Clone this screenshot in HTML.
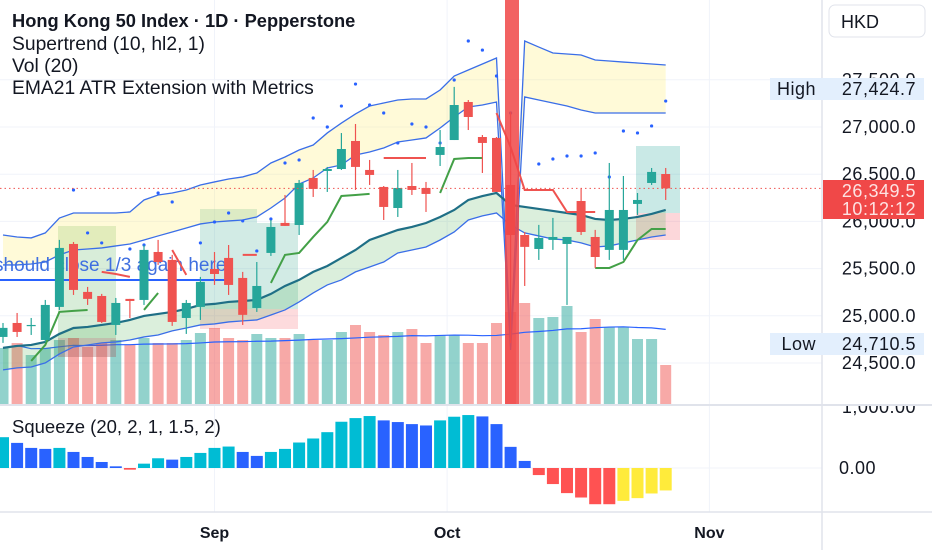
<!DOCTYPE html>
<html><head><meta charset="utf-8"><style>
body{margin:0;background:#fff;}
svg{display:block;font-family:"Liberation Sans",sans-serif;}
</style></head><body>
<svg id="chart" width="932" height="550" viewBox="0 0 932 550">
<defs><clipPath id="mainClip"><rect x="0" y="0" width="822" height="404"/></clipPath>
<clipPath id="sqClip"><rect x="0" y="406" width="822" height="106"/></clipPath>
<clipPath id="axClip"><rect x="823" y="406" width="109" height="106"/></clipPath></defs>
<rect x="0" y="0" width="932" height="550" fill="#fff"/>
<g id="grid"></g>
<g id="main" clip-path="url(#mainClip)"></g>
<g id="sq" clip-path="url(#sqClip)"></g>
<g id="axes"></g>
</svg>
<script>
const opens  = [24776,24924,24893,24744,25094,25761,25253,25210,24903,25179,25168,25676,25592,24977,25094,25496,25613,25401,25083,25666,25984,25962,26460,26534,26555,26852,26545,26365,26142,26375,26354,26704,26862,27265,26894,26884,26386,25856,25708,25804,25761,26216,25835,25698,25698,26185,26407,26502];
const closes = [24872,24829,24903,25115,25719,25274,25179,24935,25136,25157,25698,25570,24935,25136,25359,25443,25327,25010,25316,25941,25952,26407,26344,26555,26767,26577,26492,26153,26354,26333,26291,26788,27233,27106,26831,26312,25856,25730,25825,25835,25835,25888,25623,26121,26121,26227,26524,26350];
const highs  = [24924,25030,24977,25168,25804,25782,25306,25232,25189,25179,25750,25804,25645,25168,25412,25676,25750,25465,25570,26015,26280,26439,26545,26577,26936,27032,26651,26375,26545,26619,26418,26968,27425,27286,26915,26894,27159,25888,25963,26037,25835,26354,25910,26619,26481,26301,26566,26566];
const lows   = [24713,24776,24797,24723,25062,25221,25115,24924,24797,24977,25115,25539,24893,24808,24956,25327,25221,24903,25041,25634,25952,25856,26259,26312,26545,26333,26386,26015,26047,26280,26100,26587,26862,26968,26513,26312,24710,25316,25592,25698,25115,25856,25507,25592,25592,26068,26386,26227];
const volumes = [56,61,49,56,64,66,57,61,64,59,66,61,61,64,71,76,66,64,70,66,66,70,64,64,72,79,72,69,72,75,61,69,69,61,61,81,92,101,86,87,98,72,85,77,77,65,65,39];
const bandUpperOuter = [25856,25835,25825,25878,26036,26089,26089,26089,26089,26100,26227,26280,26301,26333,26386,26418,26449,26471,26513,26619,26682,26756,26809,26937,27042,27138,27222,27254,27286,27297,27297,27392,27540,27604,27667,27731,24744,27911,27847,27784,27773,27763,27710,27699,27688,27678,27667,27657];
const bandUpperInner = [25539,25539,25549,25570,25645,25697,25708,25719,25740,25761,25803,25846,25888,25930,25973,25994,26005,26015,26047,26142,26248,26396,26460,26566,26598,26704,26735,26778,26841,26862,26884,26989,27106,27212,27233,27265,24638,27318,27286,27254,27222,27180,27148,27148,27148,27148,27148,27148];
const ema21 = [24660,24681,24691,24723,24808,24871,24882,24903,24924,24956,24999,25020,25041,25073,25115,25126,25147,25157,25168,25232,25316,25380,25465,25528,25613,25697,25803,25856,25909,25941,25983,26047,26121,26227,26269,26301,26174,26153,26132,26111,26089,26068,26026,26015,26026,26047,26079,26121];
const bandLower = [24427,24448,24458,24501,24596,24670,24691,24713,24723,24744,24776,24797,24840,24871,24903,24914,24935,24946,24956,25009,25062,25147,25242,25327,25380,25465,25517,25570,25666,25697,25729,25803,25888,26015,26058,26089,25962,25878,25846,25814,25803,25772,25729,25740,25772,25803,25835,25856];
const stUp = [null,null,24522,24691,25041,25052,25062,null,null,null,25062,25242,null,null,null,null,null,null,null,25348,25645,25666,25835,25994,26269,26280,26291,null,null,null,null,26301,26661,26672,26672,null,null,null,null,null,null,null,25507,25507,25570,25803,25920,25920];
const stDown = [null,null,null,null,null,null,null,25465,25443,25412,null,null,25697,25433,null,null,null,25645,25645,null,null,null,null,null,null,null,null,26672,26672,26672,26672,null,null,null,null,27148,26788,26333,26333,26333,26100,26100,26100,null,null,null,null,null];
const dots = [null,null,null,null,null,26333,25878,25772,null,25708,25750,26301,26206,null,25772,25994,26089,26005,25687,26026,26619,26651,27095,27000,27222,27455,27233,27148,26831,27032,27000,26831,27498,27911,27815,27540,27148,null,26608,26661,26693,26693,26725,26471,26958,26937,27011,27275];
const squeeze = [497,405,324,308,324,259,178,97,27,-27,70,157,135,178,243,324,346,259,195,259,308,411,476,578,746,805,838,768,741,708,686,768,827,854,832,708,341,114,-114,-259,-405,-476,-584,-584,-530,-486,-411,-362];
const priceTicks = [27500,27000,26500,26000,25500,25000,24500];
const priceTickLabels = ["27,500.0","27,000.0","26,500.0","26,000.0","25,500.0","25,000.0","24,500.0"];
const monthLabels = ["Sep","Oct","Nov"];
const monthIdx = [15,31.5,50.1];
const lastPrice = 26349.5, highPrice = 27424.7, lowPrice = 24710.5;

const NS="http://www.w3.org/2000/svg";
const xi = i => 3 + i*14.1;
const yP = p => 127 + (27000-p)*0.0944;
const yV = v => 404 - v;
const yS = v => 468 - v*0.062;
function mk(tag, attrs, parent){const e=document.createElementNS(NS,tag);for(const k in attrs)e.setAttribute(k,attrs[k]);parent.appendChild(e);return e;}
const G=document.getElementById('grid'), M=document.getElementById('main'), S=document.getElementById('sq'), A=document.getElementById('axes');
const AX={'font-size':18,'letter-spacing':0.5,fill:'#131722','text-anchor':'end'};
function ax(o){return Object.assign({},AX,o);}

priceTicks.forEach(p=>{const l=mk('line',{x1:0,x2:822,y1:yP(p),y2:yP(p),stroke:'#f0f3fa','stroke-width':1},G);

});
monthIdx.forEach(m=>{const l=mk('line',{x1:xi(m),x2:xi(m),y1:0,y2:512,stroke:'#f0f3fa','stroke-width':1},G);

});
mk('line',{x1:0,x2:822,y1:468,y2:468,stroke:'#f0f3fa'},G);

volumes.forEach((v,i)=>{const up=closes[i]>=opens[i];
const r=mk('rect',{x:xi(i)-5.5,y:yV(v),width:11,height:v,fill:up?'rgba(38,166,154,0.5)':'rgba(239,83,80,0.5)'},M);

});
let pts=[];volumes.forEach((v,i)=>{const s=Math.max(0,i-19);let sum=0;for(let k=s;k<=i;k++)sum+=volumes[k];pts.push(xi(i)+','+yV(sum/(i-s+1)));});
const vma=mk('polyline',{points:pts.join(' '),fill:'none',stroke:'#2962ff','stroke-width':1.2},M);



function box(x,y,w,h,f,name){const r=mk('rect',{x:x,y:y,width:w,height:h,fill:f},M);

}
box(58,226,58,112,'rgba(76,175,80,0.22)','long-position-profit');
box(58,338,58,19,'rgba(160,90,90,0.35)','long-position-loss');
box(200,209,57,100,'rgba(76,175,150,0.25)','long-position-profit-2');
box(257,223,41,86,'rgba(76,175,150,0.25)','long-position-profit-3');
box(200,309,98,20,'rgba(242,54,69,0.18)','long-position-loss-2');
box(636,146,44,67,'rgba(38,166,154,0.25)','long-position-profit-4');
box(636,213,44,27,'rgba(242,54,69,0.2)','long-position-loss-4');

function linePath(arr){return arr.map((v,i)=>(i?'L':'M')+xi(i)+','+yP(v)).join('');}
function fillBetween(a,b,f,name){let d=a.map((v,i)=>(i?'L':'M')+xi(i)+','+yP(v)).join('');for(let i=b.length-1;i>=0;i--)d+='L'+xi(i)+','+yP(b[i]);d+='Z';
const p=mk('path',{d:d,fill:f},M);

}
fillBetween(bandUpperOuter,bandUpperInner,'rgba(255,235,100,0.25)','upper-band-fill');
fillBetween(ema21,bandLower,'rgba(76,175,80,0.2)','lower-band-fill');
[[bandUpperOuter,'upper-band-outer'],[bandUpperInner,'upper-band-inner'],[bandLower,'lower-band']].forEach(([a,n])=>{const p=mk('path',{d:linePath(a),fill:'none',stroke:'#3a6ee8','stroke-width':1.3},M);

});
const ep=mk('path',{d:linePath(ema21),fill:'none',stroke:'#1f6f86','stroke-width':2.2},M);



const bl=mk('line',{x1:0,x2:225,y1:280,y2:280,stroke:'#2962ff','stroke-width':2},M);


const tt=mk('text',{x:-6,y:271,'font-size':19,fill:'#3f6fe0'},M);tt.textContent='should close 1/3 again here';



function segs(arr,color,name){let d='';let pen=false;arr.forEach((v,i)=>{if(v==null){pen=false;return;}d+=(pen?'L':'M')+xi(i)+','+yP(v);pen=true;});
const p=mk('path',{d:d,fill:'none',stroke:color,'stroke-width':2},M);

}
segs(stUp,'#43a047','supertrend-up');
segs(stDown,'#ef5350','supertrend-down');
dots.forEach((v,i)=>{if(v==null)return;const c=mk('circle',{cx:xi(i),cy:yP(v),r:1.6,fill:'#2962ff'},M);

});

opens.forEach((o,i)=>{const c=closes[i],up=c>=o,col=up?'#26a69a':'#ef5350',x=xi(i);
const g=mk('g',{},M);


mk('line',{x1:x,x2:x,y1:yP(highs[i]),y2:yP(lows[i]),stroke:col,'stroke-width':1.2},g);
const t=yP(Math.max(o,c)),b=yP(Math.min(o,c));
mk('rect',{x:x-4.5,y:t,width:9,height:Math.max(1.2,b-t),fill:col},g);});

const lp=mk('line',{x1:0,x2:822,y1:yP(lastPrice),y2:yP(lastPrice),stroke:'#ef5350','stroke-width':1,'stroke-dasharray':'1.5 3'},M);



const hb=mk('rect',{x:505,y:0,width:14,height:404,fill:'rgba(240,70,70,0.85)'},M);



squeeze.forEach((v,i)=>{const prev=i?squeeze[i-1]:v;let col;
if(v>=0)col=v>=prev?'#00bcd4':'#2962ff';else col=v<=prev?'#ff5252':'#ffeb3b';
const t=Math.min(yS(v),yS(0)),h=Math.abs(yS(v)-yS(0));
const r=mk('rect',{x:xi(i)-6,y:t,width:12,height:Math.max(h,1),fill:col},S);

});

mk('line',{x1:822,x2:822,y1:0,y2:550,stroke:'#e0e3eb','stroke-width':1.5},A);
mk('line',{x1:0,x2:932,y1:405,y2:405,stroke:'#e0e3eb','stroke-width':2},A);
mk('line',{x1:0,x2:932,y1:512,y2:512,stroke:'#e0e3eb','stroke-width':1.5},A);
priceTicks.forEach((p,i)=>{const t=mk('text',ax({x:916,y:yP(p)+6}),A);t.textContent=priceTickLabels[i];

});
function tag(y,lab,val,name){const g=mk('g',{},A);


mk('rect',{x:770,y:y-11,width:154,height:22,fill:'#e3effd'},g);
const a=mk('text',ax({x:816,y:y+6}),g);a.textContent=lab;
const b=mk('text',ax({x:916,y:y+6}),g);b.textContent=val;}
tag(89,'High','27,424.7','high-label');
tag(344,'Low','24,710.5','low-label');
const rb=mk('g',{},A);


mk('rect',{x:823,y:180,width:101,height:39,fill:'#f04848'},rb);
const r1=mk('text',ax({x:916,y:197,fill:'#fde2e2'}),rb);r1.textContent='26,349.5';
const r2=mk('text',ax({x:916,y:215,fill:'#fde2e2'}),rb);r2.textContent='10:12:12';
const s1=mk('text',ax({x:916,y:413,'clip-path':'url(#axClip)'}),A);s1.textContent='1,000.00';


const s0=mk('text',ax({x:876,y:474}),A);s0.textContent='0.00';


monthLabels.forEach((m,i)=>{const t=mk('text',{x:xi(monthIdx[i]),y:538,'font-size':16,'font-weight':'bold',fill:'#131722','text-anchor':'middle'},A);t.textContent=m;

});
const hk=mk('g',{},A);


mk('rect',{x:829,y:5,width:96,height:32,rx:6,fill:'#fff',stroke:'#e0e3eb'},hk);
const ht=mk('text',{x:841,y:28,'font-size':18,fill:'#131722'},hk);ht.textContent='HKD';
const leg=[['Hong Kong 50 Index · 1D · Pepperstone',21,'bold',18.3],['Supertrend (10, hl2, 1)',44,'normal',19.3],['Vol (20)',66,'normal',19.3],['EMA21 ATR Extension with Metrics',88,'normal',19.3]];
leg.forEach(([t,y,w,fs])=>{const e=mk('text',{x:12,y:y+6,'font-size':fs,'font-weight':w,fill:'#131722'},A);e.textContent=t;

});
const sl=mk('text',{x:12,y:433,'font-size':18.5,fill:'#131722'},A);sl.textContent='Squeeze (20, 2, 1, 1.5, 2)';


</script>
</body></html>
